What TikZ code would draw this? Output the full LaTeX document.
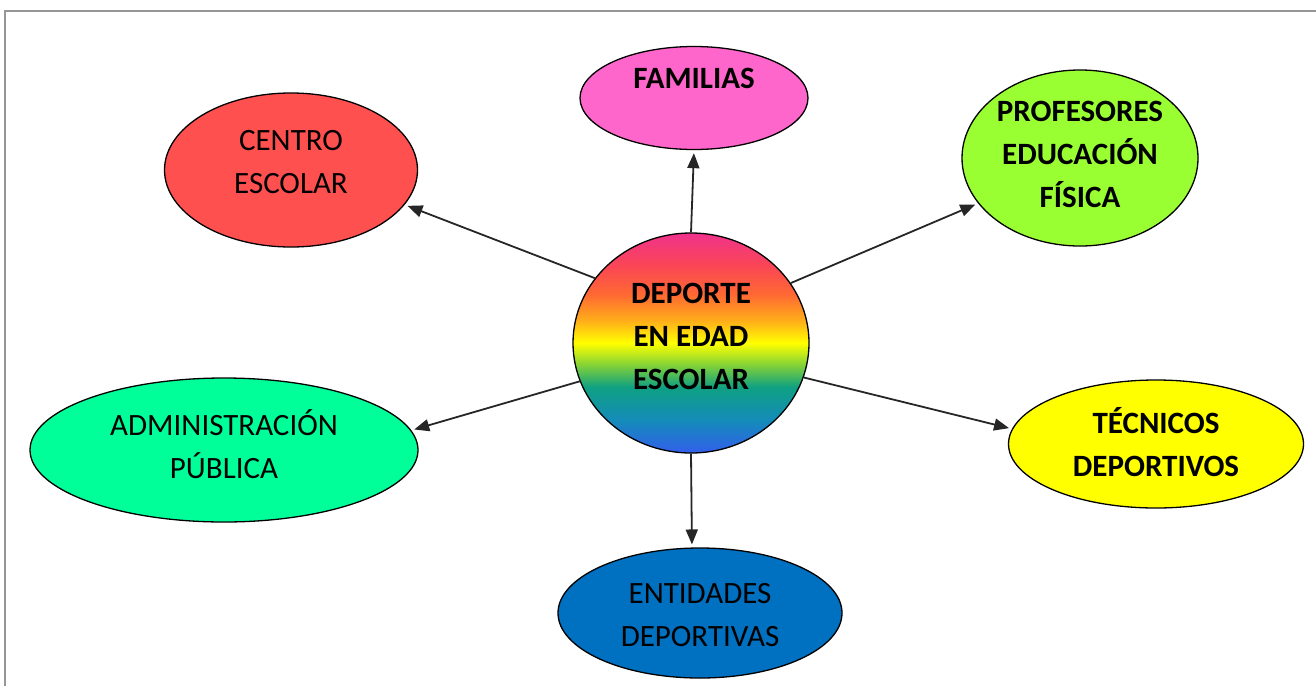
\documentclass[tikz,border=0pt]{standalone}
\usepackage{fontspec}
\setmainfont{Carlito}
\usetikzlibrary{shapes.geometric,arrows.meta}
\definecolor{centrocol}{RGB}{255,80,80}
\definecolor{famcol}{RGB}{255,102,204}
\definecolor{profcol}{RGB}{153,255,51}
\definecolor{admcol}{RGB}{0,255,153}
\definecolor{teccol}{RGB}{255,255,0}
\definecolor{entcol}{RGB}{0,112,192}
\definecolor{framecol}{RGB}{150,150,150}
% rainbow fill of the centre
\definecolor{rbblue}{RGB}{50,95,235}
\definecolor{rbtealblue}{RGB}{20,140,185}
\definecolor{rbteal}{RGB}{15,160,130}
\definecolor{rbgreen}{RGB}{130,210,55}
\definecolor{rbyellow}{RGB}{255,255,0}
\definecolor{rborange}{RGB}{255,175,25}
\definecolor{rbred}{RGB}{255,105,50}
\definecolor{rbrose}{RGB}{250,70,85}
\definecolor{rbpink}{RGB}{240,50,140}
\pgfdeclareverticalshading{rainbow}{100bp}{color(0bp)=(rbblue); color(25bp)=(rbblue);
  color(32.5bp)=(rbtealblue); color(40bp)=(rbteal); color(45bp)=(rbgreen);
  color(50bp)=(rbyellow); color(55bp)=(rborange); color(61bp)=(rbred);
  color(67.5bp)=(rbrose); color(75bp)=(rbpink); color(100bp)=(rbpink)}
\tikzset{
  bubble/.style={ellipse, draw=black, line width=1.3pt, fill=#1, inner sep=0pt, align=center},
  strong/.style={font=\bfseries},
  lift/.style={text depth=#1},
  link/.style={-{Triangle[length=15pt,width=12pt]}, line width=1.8pt, draw=black!85, shorten >=3pt},
  frame/.style={draw=framecol, line width=1.5pt},
}
\begin{document}
\fontsize{31}{43}\selectfont
\begin{tikzpicture}[x=1pt,y=-1pt]
  \useasboundingbox (0,0) rectangle (1316,686);
  \draw[frame] (5,686) -- (5,11) -- (1316,11);
  % centre
  \node[ellipse, draw=black, line width=1.3pt, shading=rainbow, minimum width=236pt, minimum height=220pt,
        inner sep=0pt, align=center, strong, lift=14pt] (dep) at (691,343) {DEPORTE\\EN EDAD\\ESCOLAR};
  % around it
  \node[bubble=famcol, strong, lift=40pt, minimum width=228pt, minimum height=103pt] (fam) at (694,98) {FAMILIAS};
  \node[bubble=centrocol, lift=16pt, minimum width=253pt, minimum height=154pt] (cen) at (291,170) {CENTRO\\ESCOLAR};
  \node[bubble=profcol, strong, lift=8pt, minimum width=236pt, minimum height=176pt] (pro) at (1080,158) {PROFESORES\\EDUCACIÓN\\FÍSICA};
  \node[bubble=admcol, lift=12pt, minimum width=388pt, minimum height=144pt] (adm) at (224,450) {ADMINISTRACIÓN\\PÚBLICA};
  \node[bubble=teccol, strong, lift=5pt, minimum width=295pt, minimum height=128pt] (tec) at (1156,444) {TÉCNICOS\\DEPORTIVOS};
  \node[bubble=entcol, text height=68pt, minimum width=284pt, minimum height=130pt] (ent) at (700,613) {ENTIDADES\\DEPORTIVAS};
  % arrows
  \draw[link] (dep.90) -- (fam.-90);
  \draw[link] (dep.146) -- (cen.-17);
  \draw[link] (dep.31) -- (pro.-156);
  \draw[link] (dep.-161) -- (adm.6);
  \draw[link] (dep.-17) -- (tec.174);
  \draw[link] (dep.-90) -- (ent.97);
\end{tikzpicture}
\end{document}
